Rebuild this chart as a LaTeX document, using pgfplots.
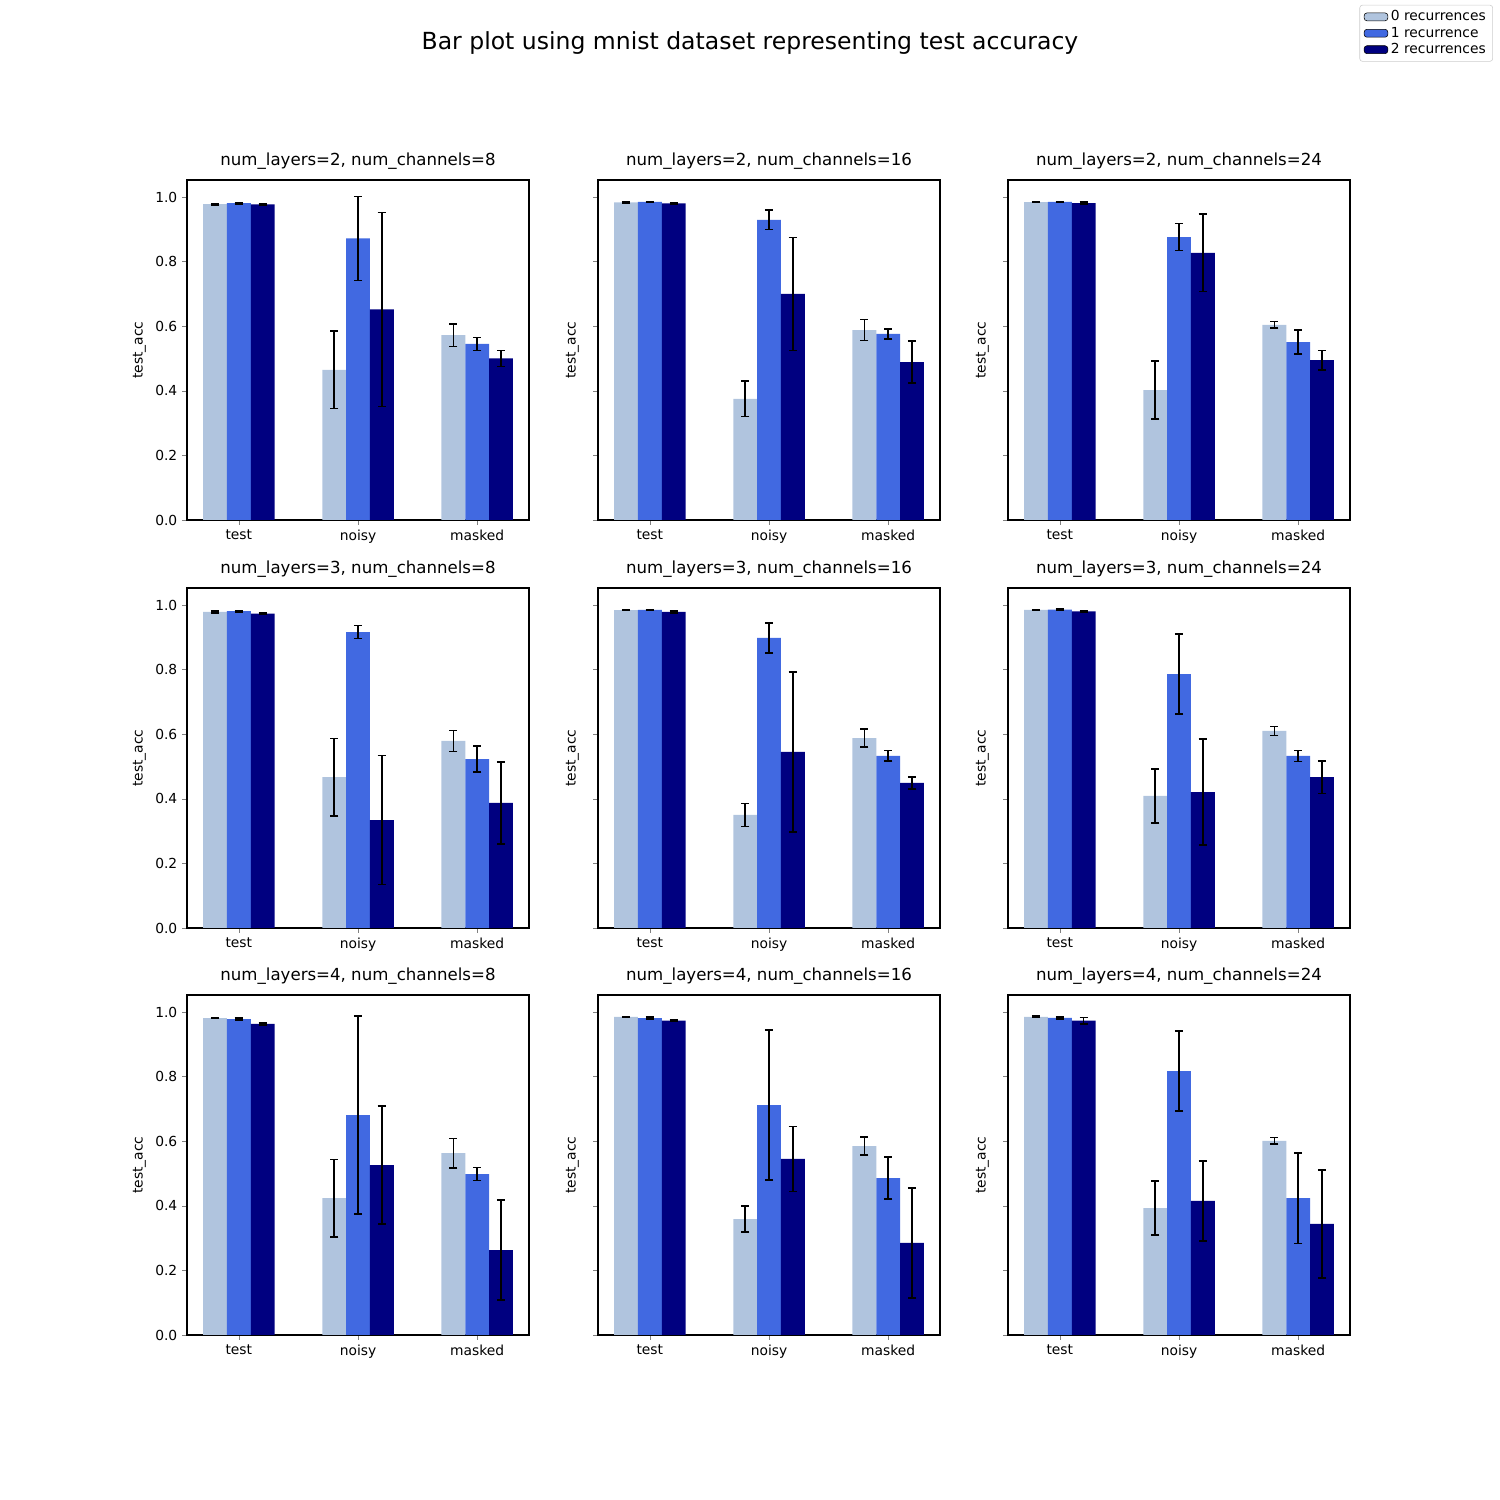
\documentclass[border=0pt]{standalone}
\usepackage{fontspec}
\setmainfont{DejaVu Sans}
\usepackage{pgfplots}
\pgfplotsset{compat=1.18}
\definecolor{c0}{RGB}{176,196,222}
\definecolor{c1}{RGB}{65,105,225}
\definecolor{c2}{RGB}{0,0,128}
\pgfplotsset{
  panel/.style={scale only axis, width=3.42in, height=3.40in,
    xmin=-0.435, xmax=2.435, ymin=0, ymax=1.0527,
    xtick={0,1,2}, xticklabels={test,noisy,masked},
    ytick={0,0.2,0.4,0.6,0.8,1.0},
    xtick pos=bottom, ytick pos=left, tick align=outside,
    major tick length=3.5pt,
    /pgf/number format/assume math mode=true,
    /pgf/number format/fixed, /pgf/number format/fixed zerofill, /pgf/number format/precision=1,
    ticklabel style={font=\fontsize{10}{12}\selectfont},
    ylabel={test\_acc}, ylabel style={font=\fontsize{10}{12}\selectfont},
    title style={font=\fontsize{12}{14}\selectfont, yshift=-2pt},
    axis line style={line width=0.8pt},
    error bars/y dir=both, error bars/y explicit,
    error bars/error bar style={black, line width=1.1pt},
    error bars/error mark options={black, rotate=90, mark size=3pt, line width=1.1pt},
  },
  bb/.style={ybar, bar width=0.2, bar shift=0pt, draw=none, fill=#1, area legend},
}
\newcommand{\panel}[7]{%
\begin{axis}[panel, at={(#1in,#2in)}, anchor=south west, title={#3}, #4]
\addplot[bb=c0] coordinates {#5};
\addplot[bb=c1] coordinates {#6};
\addplot[bb=c2] coordinates {#7};
\end{axis}}
\begin{document}
\begin{tikzpicture}
\path (0,0) rectangle (15in,15in);
\node[font=\fontsize{17}{20}\selectfont] at (7.5in,14.57in) {Bar plot using mnist dataset representing test accuracy};
% row 1
\panel{1.87}{9.80}{num\_layers=2, num\_channels=8}{}
{(-0.2,0.978)+-(0,0.002) (0.8,0.465)+-(0,0.12) (1.8,0.572)+-(0,0.035)}
{(0,0.981)+-(0,0.002) (1,0.872)+-(0,0.13) (2,0.545)+-(0,0.02)}
{(0.2,0.977)+-(0,0.002) (1.2,0.652)+-(0,0.30) (2.2,0.50)+-(0,0.025)}
\panel{5.98}{9.80}{num\_layers=2, num\_channels=16}{yticklabels={}}
{(-0.2,0.983)+-(0,0.001) (0.8,0.375)+-(0,0.055) (1.8,0.588)+-(0,0.032)}
{(0,0.985)+-(0,0.001) (1,0.929)+-(0,0.03) (2,0.576)+-(0,0.015)}
{(0.2,0.980)+-(0,0.002) (1.2,0.70)+-(0,0.175) (2.2,0.489)+-(0,0.065)}
\begin{axis}[panel, at={(10.08in,9.80in)}, anchor=south west, title={num\_layers=2, num\_channels=24}, yticklabels={},
  legend style={at={(1.418,1.515)}, anchor=north east, font=\fontsize{10}{12}\selectfont, draw=black!20, rounded corners=2pt, row sep=-1pt},
  legend cell align=left]
\addplot[bb=c0] coordinates {(-0.2,0.984)+-(0,0.001) (0.8,0.402)+-(0,0.09) (1.8,0.604)+-(0,0.01)};
\addplot[bb=c1] coordinates {(0,0.985)+-(0,0.001) (1,0.876)+-(0,0.042) (2,0.551)+-(0,0.037)};
\addplot[bb=c2] coordinates {(0.2,0.981)+-(0,0.003) (1.2,0.827)+-(0,0.12) (2.2,0.495)+-(0,0.03)};
\legend{0 recurrences,1 recurrence,2 recurrences}
\end{axis}
% row 2
\panel{1.87}{5.72}{num\_layers=3, num\_channels=8}{}
{(-0.2,0.979)+-(0,0.003) (0.8,0.467)+-(0,0.12) (1.8,0.579)+-(0,0.032)}
{(0,0.981)+-(0,0.002) (1,0.916)+-(0,0.02) (2,0.523)+-(0,0.04)}
{(0.2,0.973)+-(0,0.003) (1.2,0.334)+-(0,0.20) (2.2,0.387)+-(0,0.127)}
\panel{5.98}{5.72}{num\_layers=3, num\_channels=16}{yticklabels={}}
{(-0.2,0.984)+-(0,0.001) (0.8,0.35)+-(0,0.036) (1.8,0.588)+-(0,0.028)}
{(0,0.985)+-(0,0.001) (1,0.898)+-(0,0.046) (2,0.533)+-(0,0.016)}
{(0.2,0.979)+-(0,0.003) (1.2,0.545)+-(0,0.248) (2.2,0.449)+-(0,0.018)}
\panel{10.08}{5.72}{num\_layers=3, num\_channels=24}{yticklabels={}}
{(-0.2,0.985)+-(0,0.001) (0.8,0.409)+-(0,0.084) (1.8,0.61)+-(0,0.014)}
{(0,0.986)+-(0,0.002) (1,0.786)+-(0,0.124) (2,0.533)+-(0,0.017)}
{(0.2,0.980)+-(0,0.002) (1.2,0.421)+-(0,0.164) (2.2,0.467)+-(0,0.05)}
% row 3
\panel{1.87}{1.65}{num\_layers=4, num\_channels=8}{}
{(-0.2,0.981)+-(0,0.001) (0.8,0.424)+-(0,0.12) (1.8,0.563)+-(0,0.046)}
{(0,0.978)+-(0,0.003) (1,0.681)+-(0,0.307) (2,0.498)+-(0,0.02)}
{(0.2,0.963)+-(0,0.003) (1.2,0.526)+-(0,0.183) (2.2,0.263)+-(0,0.155)}
\panel{5.98}{1.65}{num\_layers=4, num\_channels=16}{yticklabels={}}
{(-0.2,0.985)+-(0,0.001) (0.8,0.359)+-(0,0.04) (1.8,0.585)+-(0,0.028)}
{(0,0.981)+-(0,0.003) (1,0.712)+-(0,0.232) (2,0.486)+-(0,0.065)}
{(0.2,0.973)+-(0,0.002) (1.2,0.545)+-(0,0.10) (2.2,0.285)+-(0,0.17)}
\panel{10.08}{1.65}{num\_layers=4, num\_channels=24}{yticklabels={}}
{(-0.2,0.985)+-(0,0.002) (0.8,0.393)+-(0,0.084) (1.8,0.601)+-(0,0.01)}
{(0,0.982)+-(0,0.003) (1,0.817)+-(0,0.124) (2,0.424)+-(0,0.14)}
{(0.2,0.973)+-(0,0.01) (1.2,0.415)+-(0,0.124) (2.2,0.344)+-(0,0.167)}
\end{tikzpicture}
\end{document}
